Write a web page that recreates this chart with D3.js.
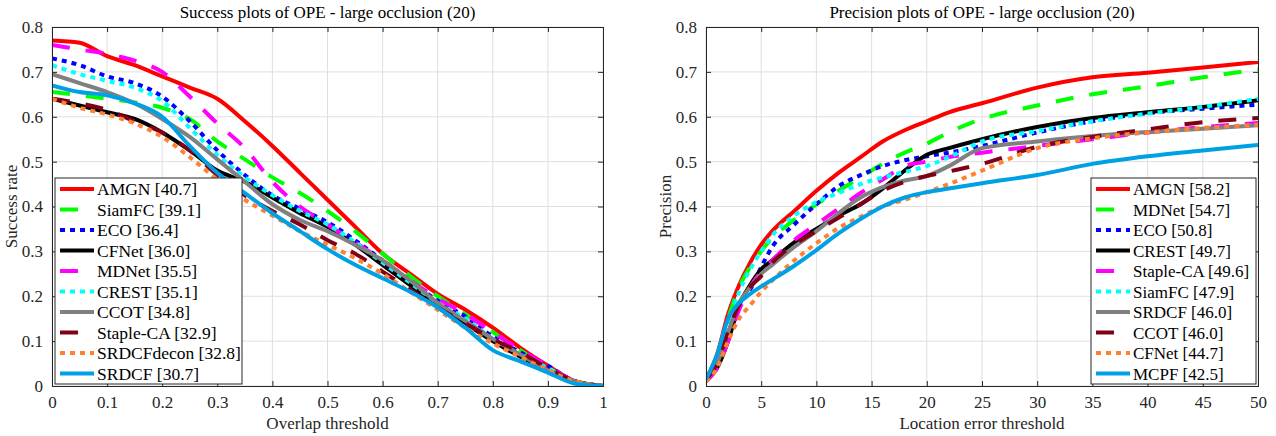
<!DOCTYPE html>
<html>
<head>
<meta charset="utf-8">
<script src="https://cdn.jsdelivr.net/npm/d3@7"></script>
<style>
  body { margin: 0; background: #fff; }
</style>
</head>
<body>
<svg id="chart" width="1276" height="436"></svg>
<script>
// ---- data: success plot (overlap threshold 0..1) ----
var overlapX = [0, 0.05, 0.1, 0.15, 0.2, 0.25, 0.3, 0.35, 0.4, 0.45, 0.5, 0.55, 0.6, 0.65, 0.7, 0.75, 0.8, 0.85, 0.9, 0.95, 1];
var succNames = ["AMGN [40.7]", "SiamFC [39.1]", "ECO [36.4]", "CFNet [36.0]", "MDNet [35.5]",
                 "CREST [35.1]", "CCOT [34.8]", "Staple-CA [32.9]", "SRDCFdecon [32.8]", "SRDCF [30.7]"];
var succAMGN   = [0.77, 0.765, 0.735, 0.715, 0.69, 0.665, 0.64, 0.59, 0.535, 0.475, 0.415, 0.355, 0.295, 0.25, 0.205, 0.17, 0.13, 0.085, 0.045, 0.01, 0];
var succSiamFC = [0.655, 0.648, 0.64, 0.632, 0.62, 0.595, 0.545, 0.505, 0.465, 0.43, 0.39, 0.345, 0.295, 0.245, 0.2, 0.16, 0.12, 0.08, 0.04, 0.01, 0];
var succECO    = [0.73, 0.715, 0.69, 0.675, 0.645, 0.59, 0.525, 0.47, 0.425, 0.395, 0.365, 0.325, 0.28, 0.235, 0.19, 0.155, 0.11, 0.075, 0.045, 0.01, 0];
var succCFNet  = [0.64, 0.625, 0.61, 0.595, 0.565, 0.525, 0.48, 0.455, 0.42, 0.385, 0.355, 0.315, 0.27, 0.225, 0.18, 0.14, 0.1, 0.065, 0.035, 0.01, 0];
var succMDNet  = [0.76, 0.75, 0.74, 0.725, 0.70, 0.645, 0.585, 0.53, 0.455, 0.40, 0.36, 0.32, 0.28, 0.235, 0.195, 0.16, 0.12, 0.08, 0.045, 0.01, 0];
var succCREST  = [0.715, 0.695, 0.68, 0.665, 0.635, 0.575, 0.515, 0.465, 0.425, 0.39, 0.36, 0.32, 0.275, 0.23, 0.185, 0.15, 0.105, 0.07, 0.04, 0.01, 0];
var succCCOT   = [0.695, 0.675, 0.655, 0.63, 0.595, 0.555, 0.505, 0.455, 0.405, 0.37, 0.345, 0.315, 0.28, 0.235, 0.185, 0.145, 0.105, 0.07, 0.035, 0.01, 0];
var succStaple = [0.64, 0.63, 0.615, 0.59, 0.565, 0.525, 0.47, 0.425, 0.39, 0.36, 0.325, 0.295, 0.255, 0.215, 0.175, 0.14, 0.105, 0.075, 0.04, 0.01, 0];
var succDecon  = [0.64, 0.62, 0.605, 0.585, 0.555, 0.51, 0.46, 0.415, 0.38, 0.345, 0.315, 0.285, 0.25, 0.21, 0.17, 0.13, 0.095, 0.065, 0.035, 0.01, 0];
var succSRDCF  = [0.67, 0.655, 0.648, 0.63, 0.6, 0.535, 0.475, 0.43, 0.385, 0.345, 0.305, 0.27, 0.24, 0.21, 0.175, 0.13, 0.08, 0.055, 0.03, 0.005, 0];

// ---- data: precision plot (location error threshold 0..50) ----
var errorX = [0, 1, 2, 3, 4, 5, 6, 8, 10, 12, 14, 16, 18, 20, 22, 25, 30, 35, 40, 45, 50];
var precNames = ["AMGN [58.2]", "MDNet [54.7]", "ECO [50.8]", "CREST [49.7]", "Staple-CA [49.6]",
                 "SiamFC [47.9]", "SRDCF [46.0]", "CCOT [46.0]", "CFNet [44.7]", "MCPF [42.5]"];
var precAMGN   = [0.015, 0.07, 0.16, 0.225, 0.275, 0.315, 0.345, 0.39, 0.435, 0.475, 0.51, 0.545, 0.57, 0.59, 0.61, 0.63, 0.665, 0.688, 0.698, 0.71, 0.722];
var precMDNet  = [0.015, 0.065, 0.15, 0.22, 0.265, 0.3, 0.33, 0.37, 0.405, 0.435, 0.465, 0.495, 0.52, 0.54, 0.565, 0.595, 0.625, 0.65, 0.668, 0.688, 0.705];
var precECO    = [0.015, 0.06, 0.13, 0.185, 0.215, 0.265, 0.31, 0.36, 0.405, 0.445, 0.47, 0.49, 0.503, 0.512, 0.52, 0.535, 0.565, 0.59, 0.608, 0.618, 0.627];
var precCREST  = [0.015, 0.04, 0.1, 0.18, 0.225, 0.26, 0.28, 0.32, 0.35, 0.38, 0.405, 0.44, 0.48, 0.515, 0.53, 0.55, 0.577, 0.597, 0.61, 0.622, 0.637];
var precStaple = [0.01, 0.04, 0.1, 0.17, 0.22, 0.255, 0.28, 0.325, 0.36, 0.395, 0.43, 0.46, 0.49, 0.5, 0.51, 0.52, 0.535, 0.55, 0.565, 0.577, 0.586];
var precSiamFC = [0.015, 0.06, 0.14, 0.21, 0.26, 0.3, 0.335, 0.38, 0.41, 0.43, 0.45, 0.465, 0.477, 0.49, 0.51, 0.545, 0.568, 0.59, 0.607, 0.622, 0.64];
var precSRDCF  = [0.015, 0.05, 0.12, 0.185, 0.22, 0.25, 0.27, 0.31, 0.345, 0.385, 0.42, 0.443, 0.458, 0.468, 0.49, 0.53, 0.545, 0.557, 0.566, 0.573, 0.581];
var precCCOT   = [0.015, 0.05, 0.12, 0.18, 0.22, 0.245, 0.275, 0.315, 0.345, 0.375, 0.405, 0.435, 0.455, 0.468, 0.478, 0.495, 0.533, 0.555, 0.572, 0.588, 0.597];
var precCFNet  = [0.01, 0.04, 0.1, 0.15, 0.18, 0.21, 0.235, 0.28, 0.318, 0.352, 0.377, 0.4, 0.415, 0.432, 0.45, 0.48, 0.53, 0.552, 0.565, 0.575, 0.582];
var precMCPF   = [0.015, 0.07, 0.15, 0.185, 0.205, 0.222, 0.237, 0.268, 0.303, 0.34, 0.372, 0.4, 0.42, 0.432, 0.44, 0.452, 0.47, 0.495, 0.512, 0.525, 0.537];

var yTicks = [0, 0.1, 0.2, 0.3, 0.4, 0.5, 0.6, 0.7, 0.8];
var overlapTicks = [0, 0.1, 0.2, 0.3, 0.4, 0.5, 0.6, 0.7, 0.8, 0.9, 1];
var errorTicks = [0, 5, 10, 15, 20, 25, 30, 35, 40, 45, 50];

// line styles, in legend order (same for both panels)
var colors = ["#ff0000", "#00ff00", "#0000ff", "#000000", "#ff00ff", "#00ffff", "#808080", "#800018", "#ff8030", "#00a0e4"];
var dashes = [null, "18,16", "5,5", null, "18,16", "5,5", null, "18,16", "5,5", null];

var svg = d3.select("#chart");
var lw = 4;
var fs = 17;
var serif = "'Liberation Serif', 'Times New Roman', serif";

function drawPanel(opt) {
  var x = d3.scaleLinear().domain(opt.xDomain).range([opt.left, opt.right]);
  var y = d3.scaleLinear().domain([0, 0.8]).range([386, 27]);
  var g = svg.append("g");

  // grid
  g.selectAll(".gx").data(opt.xTicks).enter().append("line")
    .attr("x1", function(d) { return x(d); }).attr("x2", function(d) { return x(d); })
    .attr("y1", y(0)).attr("y2", y(0.8))
    .attr("stroke", "#dfdfdf").attr("stroke-width", 1);
  g.selectAll(".gy").data(yTicks).enter().append("line")
    .attr("x1", opt.left).attr("x2", opt.right)
    .attr("y1", function(d) { return y(d); }).attr("y2", function(d) { return y(d); })
    .attr("stroke", "#dfdfdf").attr("stroke-width", 1);

  // clip
  var clipId = "clip" + opt.id;
  svg.append("clipPath").attr("id", clipId).append("rect")
    .attr("x", opt.left).attr("y", y(0.8) - 3)
    .attr("width", opt.right - opt.left + 3).attr("height", y(0) - y(0.8) + 3);

  var line = d3.line()
    .x(function(d) { return x(d[0]); })
    .y(function(d) { return y(d[1]); })
    .curve(d3.curveMonotoneX);

  var lines = g.append("g").attr("clip-path", "url(#" + clipId + ")");
  opt.series.forEach(function(s, i) {
    lines.append("path")
      .datum(opt.xs.map(function(v, j) { return [v, s[j]]; }))
      .attr("fill", "none")
      .attr("stroke", colors[i])
      .attr("stroke-width", lw)
      .attr("stroke-dasharray", dashes[i])
      .attr("d", line);
  });

  // axes (MATLAB box style, ticks inside)
  var ax = svg.append("g");
  ax.append("g").attr("transform", "translate(0," + y(0) + ")")
    .call(d3.axisBottom(x).tickValues(opt.xTicks).tickSize(-5).tickPadding(10).tickFormat(d3.format("")));
  ax.append("g").attr("transform", "translate(0," + y(0.8) + ")")
    .call(d3.axisTop(x).tickValues(opt.xTicks).tickSize(-5).tickFormat(""));
  ax.append("g").attr("transform", "translate(" + opt.left + ",0)")
    .call(d3.axisLeft(y).tickValues(yTicks).tickSize(-5).tickPadding(9).tickFormat(d3.format("")));
  ax.append("g").attr("transform", "translate(" + opt.right + ",0)")
    .call(d3.axisRight(y).tickValues(yTicks).tickSize(-5).tickFormat(""));
  ax.selectAll(".domain").attr("stroke", "#262626");
  ax.selectAll(".tick line").attr("stroke", "#262626");
  ax.selectAll("text").style("font-family", serif).style("font-size", fs + "px").attr("fill", "#262626");

  // titles
  svg.append("text").attr("x", (opt.left + opt.right) / 2).attr("y", 18)
    .attr("text-anchor", "middle").style("font-family", serif).style("font-size", fs + "px").attr("fill", "#000")
    .text(opt.title);
  svg.append("text").attr("x", (opt.left + opt.right) / 2).attr("y", 429)
    .attr("text-anchor", "middle").style("font-family", serif).style("font-size", fs + "px").attr("fill", "#262626")
    .text(opt.xLabel);
  svg.append("text")
    .attr("transform", "translate(" + opt.yLabelX + "," + ((y(0) + y(0.8)) / 2) + ") rotate(-90)")
    .attr("text-anchor", "middle").style("font-family", serif).style("font-size", fs + "px").attr("fill", "#262626")
    .text(opt.yLabel);

  // legend
  var lg = svg.append("g");
  lg.append("rect").attr("x", opt.legX).attr("y", 178)
    .attr("width", opt.legW).attr("height", 206)
    .attr("fill", "#fff").attr("stroke", "#262626").attr("stroke-width", 1);
  opt.names.forEach(function(n, i) {
    var yy = 189 + i * 20.5;
    lg.append("line")
      .attr("x1", opt.legX + 5).attr("x2", opt.legX + 39)
      .attr("y1", yy).attr("y2", yy)
      .attr("stroke", colors[i]).attr("stroke-width", lw)
      .attr("stroke-dasharray", dashes[i]);
    lg.append("text").attr("x", opt.legX + 42).attr("y", yy + 6)
      .style("font-family", serif).style("font-size", opt.legFs + "px").attr("fill", "#000").text(n);
  });
}

drawPanel({
  id: "a", left: 52, right: 603, xDomain: [0, 1], xTicks: overlapTicks,
  xs: overlapX,
  series: [succAMGN, succSiamFC, succECO, succCFNet, succMDNet, succCREST, succCCOT, succStaple, succDecon, succSRDCF],
  names: succNames,
  title: "Success plots of OPE - large occlusion (20)",
  xLabel: "Overlap threshold", yLabel: "Success rate", yLabelX: 17,
  legX: 55, legW: 187, legFs: 17.5
});

drawPanel({
  id: "b", left: 706, right: 1258, xDomain: [0, 50], xTicks: errorTicks,
  xs: errorX,
  series: [precAMGN, precMDNet, precECO, precCREST, precStaple, precSiamFC, precSRDCF, precCCOT, precCFNet, precMCPF],
  names: precNames,
  title: "Precision plots of OPE - large occlusion (20)",
  xLabel: "Location error threshold", yLabel: "Precision", yLabelX: 671,
  legX: 1091, legW: 165, legFs: 17
});
</script>
</body>
</html>
